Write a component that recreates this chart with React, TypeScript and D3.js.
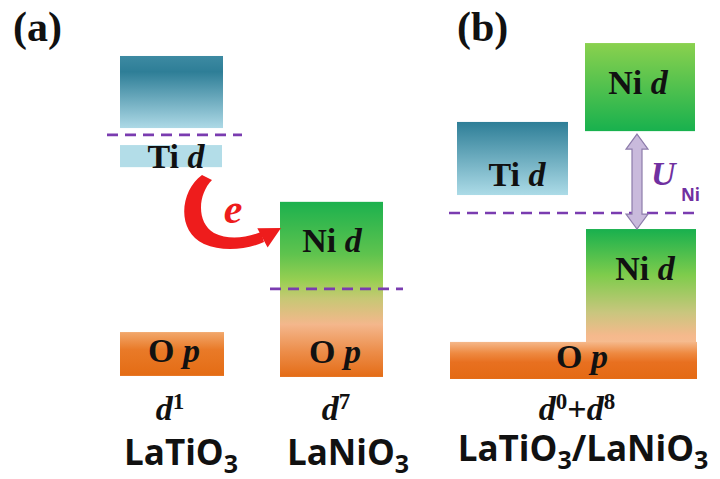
import React from 'react';
import * as d3 from 'd3';

// ---------- data (energies in arbitrary units, 0 = bottom of O p) ----------
const bandIds = ['tiEmptyA', 'tiOccA', 'opA', 'niA', 'niUpB', 'tiB', 'niLowB', 'opB'];
const bandTop = [95.3, 69.1, 14.1, 52.4, 99.1, 75.9, 44.4, 11.2];
const bandBottom = [74.1, 62.6, 1.2, 0.9, 73.2, 54.4, 10.3, 0.3];
const fermiLevels = [72.1, 26.8, 49.1];
const configLabels = [['1'], ['7'], ['0', '8']];
const compoundLabels = [['LaTiO', '3'], ['LaNiO', '3'], ['LaTiO', '3', '/LaNiO', '3']];
const panelLabels = ['(a)', '(b)'];

// ---------- layout ----------
const W = 720;
const H = 479;
const y = d3.scaleLinear().domain([0, 100]).range([380, 40]);

const bandX: Record<string, [number, number]> = {
  tiEmptyA: [120, 223],
  tiOccA: [120, 222],
  opA: [120, 224],
  niA: [280, 383],
  niUpB: [585, 695],
  tiB: [457, 568],
  niLowB: [586, 696],
  opB: [450, 697],
};

const gradients: Record<string, [number, string][]> = {
  tiEmptyA: [[0, '#3d8aa2'], [0.22, '#2e7e97'], [1, '#add9e6']],
  tiOccA: [[0, '#b3dde8'], [1, '#b3dde8']],
  opA: [[0, '#f2a86c'], [0.4, '#e97a28'], [1, '#e46c14']],
  niA: [[0, '#1cb14e'], [0.3, '#5fc34e'], [0.45, '#98cf52'], [0.55, '#c6c874'], [0.7, '#f4b78c'], [0.86, '#ec8c48'], [1, '#e46c16']],
  niUpB: [[0, '#8ad14e'], [1, '#18b14e']],
  tiB: [[0, '#2e7e97'], [1, '#acdbe7']],
  niLowB: [[0, '#18b04e'], [0.4, '#7fcc4c'], [0.72, '#c9c67e'], [0.92, '#f5b98c'], [1, '#f6bc90']],
  opB: [[0, '#f5b88a'], [0.3, '#ee8a42'], [0.55, '#e87020'], [1, '#e46a14']],
};

const fermiX: [number, number][] = [[107, 242], [270, 403], [449, 697]];

const SERIF = '"Liberation Serif", "Times New Roman", serif';
const SANS = '"Open Sans", "Liberation Sans", sans-serif';
const PURPLE = '#7a3cb0';

const bandText = [
  { id: 'tiOccA', el: 'Ti', orb: 'd', x: 176, y: 168 },
  { id: 'niA', el: 'Ni', orb: 'd', x: 332, y: 252 },
  { id: 'opA', el: 'O', orb: 'p', x: 174, y: 362 },
  { id: 'niA2', el: 'O', orb: 'p', x: 335, y: 363 },
  { id: 'niUpB', el: 'Ni', orb: 'd', x: 638, y: 94 },
  { id: 'tiB', el: 'Ti', orb: 'd', x: 517, y: 186 },
  { id: 'niLowB', el: 'Ni', orb: 'd', x: 645, y: 280 },
  { id: 'opB', el: 'O', orb: 'p', x: 582, y: 368 },
];

const configPos = [170, 336, 577];
const compoundPos = [181, 348, 583];
const compoundBase = [465, 465, 461];

export default function App() {
  // double arrow (U_Ni) spanning the gap between lower and upper Ni d bands
  const ax = 637;
  const aTop = y(bandBottom[4]) + 3;
  const aBot = y(bandTop[6]);
  const hw = 11, sw = 5, hh = 15;
  const dbl = `M${ax},${aTop} L${ax + hw},${aTop + hh} L${ax + sw},${aTop + hh} L${ax + sw},${aBot - hh} L${ax + hw},${aBot - hh} L${ax},${aBot} L${ax - hw},${aBot - hh} L${ax - sw},${aBot - hh} L${ax - sw},${aTop + hh} L${ax - hw},${aTop + hh} Z`;

  // curved red electron-transfer arrow
  const crescent = 'M202,175 C181,190 175,230 204,244 C222,252 246,250 264,242 L261,232 C246,238 228,240 214,233 C196,222 198,194 212,180 Z';
  const tip: [number, number] = [281, 228];
  const ang = (-28 * Math.PI) / 180;
  const dx = Math.cos(ang), dy = Math.sin(ang);
  const bx = tip[0] - 21 * dx, by = tip[1] - 21 * dy;
  const head = `M${tip[0]},${tip[1]} L${bx + 11 * -dy},${by + 11 * dx} L${bx - 11 * -dy},${by - 11 * dx} Z`;

  return (
    <svg width={W} height={H} style={{ position: 'absolute', left: 0, top: 0, background: '#fff' }}>
      <defs>
        {Object.entries(gradients).map(([id, stops]) => (
          <linearGradient key={id} id={`g-${id}`} x1="0" y1="0" x2="0" y2="1">
            {stops.map(([o, c], i) => (
              <stop key={i} offset={o} stopColor={c} />
            ))}
          </linearGradient>
        ))}
      </defs>

      {panelLabels.map((p, i) => (
        <text key={p} x={i === 0 ? 13 : 457} y={41} fontFamily={SERIF} fontWeight="bold" fontSize={42} fill="#111">
          {p}
        </text>
      ))}

      {bandIds.map((id, i) => {
        const [x0, x1] = bandX[id];
        return (
          <rect key={id} x={x0} y={y(bandTop[i])} width={x1 - x0} height={y(bandBottom[i]) - y(bandTop[i])} fill={`url(#g-${id})`} />
        );
      })}

      {fermiLevels.map((e, i) => (
        <line key={i} x1={fermiX[i][0]} x2={fermiX[i][1]} y1={y(e)} y2={y(e)} stroke={PURPLE} strokeWidth={2.6} strokeDasharray="11 7" />
      ))}

      <path d={dbl} fill="#c9badc" stroke="#8d7cab" strokeWidth={1.2} />
      <text x={651} y={185} fill="#7030a0" fontFamily={SERIF} fontWeight="bold" fontStyle="italic" fontSize={34}>
        U
      </text>
      <text x={681} y={201} fill="#7030a0" fontFamily={SANS} fontWeight="bold" fontSize={17}>
        Ni
      </text>

      <path d={crescent} fill="#ee1c1c" />
      <path d={head} fill="#ee1c1c" />
      <text x={233} y={223} textAnchor="middle" fill="#ee1c1c" fontFamily={SERIF} fontWeight="bold" fontStyle="italic" fontSize={42}>
        e
      </text>

      {bandText.map((t) => (
        <text key={t.id} x={t.x} y={t.y} textAnchor="middle" fontFamily={SERIF} fontWeight="bold" fontSize={34} fill="#111">
          <tspan>{t.el} </tspan>
          <tspan fontStyle="italic">{t.orb}</tspan>
        </text>
      ))}

      {configLabels.map((sups, i) => (
        <text key={i} x={configPos[i]} y={420} textAnchor="middle" fontFamily={SERIF} fontWeight="bold" fontSize={34} fill="#111">
          {sups.map((s, j) => (
            <React.Fragment key={j}>
              {j > 0 && <tspan dy={11}>+</tspan>}
              <tspan fontStyle="italic">d</tspan>
              <tspan fontSize={23} dy={-11}>{s}</tspan>
            </React.Fragment>
          ))}
        </text>
      ))}

      {compoundLabels.map((parts, i) => (
        <text key={i} x={compoundPos[i]} y={compoundBase[i]} textAnchor="middle" fontFamily={SANS} fontWeight="bold" fontSize={35} fill="#111">
          {parts.map((p, j) =>
            j % 2 === 1 ? (
              <tspan key={j} fontSize={25} dy={8}>{p}</tspan>
            ) : (
              <tspan key={j} dy={j > 0 ? -8 : 0}>{p}</tspan>
            )
          )}
        </text>
      ))}
    </svg>
  );
}
